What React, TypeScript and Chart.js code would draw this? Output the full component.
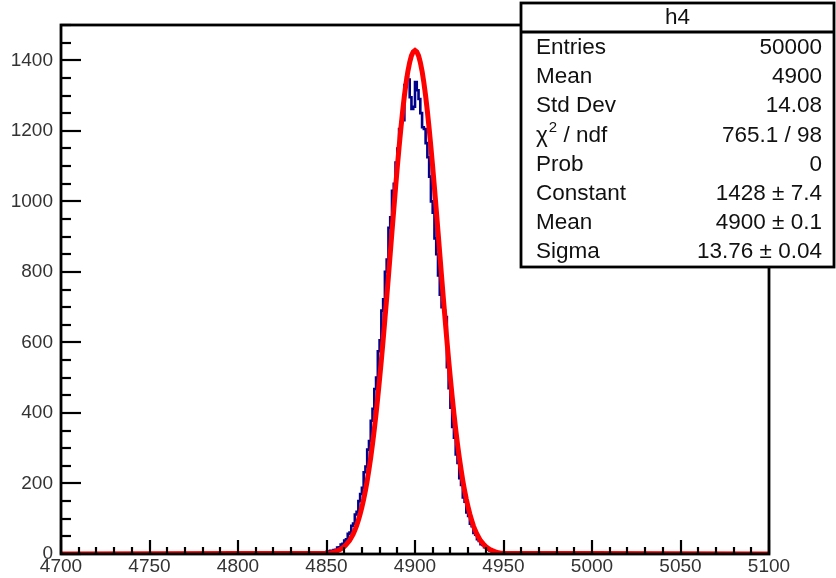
import React, { useEffect, useRef } from 'react';
import { Chart, registerables } from 'chart.js';

Chart.register(...registerables);

// ---- data ----
const xMin = 4700;
const xMax = 5100;
const yMin = 0;
const yMax = 1500;
const xTickLabels = [4700, 4750, 4800, 4850, 4900, 4950, 5000, 5050, 5100];
const yTickLabels = [0, 200, 400, 600, 800, 1000, 1200, 1400];

// histogram bin contents (bin width 1), first bin low edge = histStart
const histStart = 4842;
const histCounts = [
  1, 0, 1, 1, 2, 2, 3, 4, 4, 6,
  7, 9, 9, 11, 12, 18, 19, 27, 29, 38,
  42, 57, 61, 80, 86, 112, 120, 150, 170, 188,
  232, 248, 296, 320, 378, 412, 468, 500, 575, 606,
  690, 722, 800, 835, 925, 955, 1030, 1050, 1110, 1150,
  1205, 1225, 1230, 1330, 1352, 1345, 1295, 1262, 1268, 1338,
  1315, 1290, 1250, 1210, 1205, 1165, 1125, 1070, 1000, 968,
  895, 850, 790, 735, 700, 690, 672, 530, 470, 415,
  360, 330, 282, 258, 215, 196, 160, 148, 118, 108,
  86, 79, 60, 55, 42, 37, 28, 26, 19, 17,
  12, 10, 8, 6, 5, 4, 3, 2, 2, 1,
  1, 0, 1,
];

// gaussian fit curve values, one per unit from fitStart
const fitStart = 4850;
const fitCounts = [
  2, 2.5, 3, 4, 5, 7, 9, 11, 14, 17,
  21, 26, 32, 38, 47, 56, 67, 80, 96, 113,
  133, 155, 180, 208, 240, 274, 312, 353, 398, 446,
  497, 550, 607, 666, 726, 788, 851, 914, 976, 1038,
  1097, 1153, 1206, 1255, 1299, 1337, 1369, 1394, 1413, 1424,
  1428,
  1424, 1413, 1394, 1369, 1337, 1299, 1255, 1206, 1153, 1097,
  1038, 976, 914, 851, 788, 726, 666, 607, 550, 497,
  446, 398, 353, 312, 274, 240, 208, 180, 155, 133,
  113, 96, 80, 67, 56, 47, 38, 32, 26, 21,
  17, 14, 11, 9, 7, 5, 4, 3, 2.5, 2,
];

const statsTitle = 'h4';
const statsNames = ['Entries', 'Mean', 'Std Dev', 'CHI2', 'Prob', 'Constant', 'Mean', 'Sigma'];
const statsValues = ['50000', '4900', '14.08', '765.1 / 98', '0', '1428 ± 7.4', '4900 ± 0.1', '13.76 ± 0.04'];

const FONT = '"Liberation Sans", Arial, Helvetica, sans-serif';
const STAT_SIZE = 22.5;

const rootFrame = {
  id: 'rootFrame',
  afterDatasetsDraw(chart: any) {
    const { ctx, chartArea: a, scales } = chart;
    const x = scales.x;
    const y = scales.y;
    ctx.save();
    ctx.strokeStyle = '#000';
    ctx.lineWidth = 2.2;
    ctx.lineCap = 'butt';
    // x ticks (inward)
    for (let v = xMin; v <= xMax; v += 10) {
      const px = Math.round(x.getPixelForValue(v));
      const major = (v - xMin) % 50 === 0;
      ctx.beginPath();
      ctx.moveTo(px, a.bottom);
      ctx.lineTo(px, a.bottom - (major ? 14 : 7));
      ctx.stroke();
    }
    // y ticks (inward)
    for (let v = yMin; v <= yMax; v += 50) {
      const py = Math.round(y.getPixelForValue(v));
      const major = v % 200 === 0;
      ctx.beginPath();
      ctx.moveTo(a.left, py);
      ctx.lineTo(a.left + (major ? 20 : 10), py);
      ctx.stroke();
    }
    // frame
    ctx.lineWidth = 2.8;
    ctx.strokeRect(a.left, a.top, a.right - a.left, a.bottom - a.top);

    // stats box
    const bx = 521, by = 3, bw = 313, bh = 264, hy = 32;
    ctx.fillStyle = '#fff';
    ctx.fillRect(bx, by, bw, bh);
    ctx.lineWidth = 2.8;
    ctx.strokeRect(bx, by, bw, bh);
    ctx.beginPath();
    ctx.moveTo(bx, hy);
    ctx.lineTo(bx + bw, hy);
    ctx.stroke();

    ctx.fillStyle = '#111';
    ctx.textBaseline = 'middle';
    ctx.font = `${STAT_SIZE}px ${FONT}`;
    ctx.textAlign = 'center';
    ctx.fillText(statsTitle, bx + bw / 2, 18);
    for (let i = 0; i < statsNames.length; i++) {
      const ry = 48 + i * 29.1;
      ctx.textAlign = 'left';
      const name = statsNames[i];
      if (name === 'CHI2') {
        ctx.font = `${STAT_SIZE}px ${FONT}`;
        ctx.fillText('χ', 536, ry);
        const w = ctx.measureText('χ').width;
        ctx.font = `15px ${FONT}`;
        ctx.fillText('2', 536 + w + 1, ry - 7);
        const w2 = ctx.measureText('2').width;
        ctx.font = `${STAT_SIZE}px ${FONT}`;
        ctx.fillText(' / ndf', 536 + w + w2 + 1, ry);
      } else {
        ctx.font = `${STAT_SIZE}px ${FONT}`;
        ctx.fillText(name, 536, ry);
      }
      ctx.textAlign = 'right';
      ctx.font = `${STAT_SIZE}px ${FONT}`;
      ctx.fillText(statsValues[i], 822, ry);
    }
    ctx.restore();
  },
};

export default function App() {
  const ref = useRef<HTMLCanvasElement | null>(null);

  useEffect(() => {
    if (!ref.current) return;
    const histData: { x: number; y: number }[] = [];
    for (let b = xMin; b < xMax; b++) {
      const idx = b - histStart;
      const c = idx >= 0 && idx < histCounts.length ? histCounts[idx] : 0;
      histData.push({ x: b, y: c });
    }
    histData.push({ x: xMax, y: 0 });

    const fitData: { x: number; y: number }[] = [{ x: xMin, y: 0 }];
    fitCounts.forEach((v, i) => fitData.push({ x: fitStart + i, y: v }));
    fitData.push({ x: xMax, y: 0 });

    const chart = new Chart(ref.current, {
      type: 'line',
      data: {
        datasets: [
          {
            label: 'fit',
            data: fitData,
            borderColor: '#ff0000',
            borderWidth: 5,
            pointRadius: 0,
            tension: 0,
            fill: false,
          },
          {
            label: 'h4',
            data: histData,
            borderColor: '#00008b',
            borderWidth: 2.6,
            pointRadius: 0,
            stepped: 'after',
            fill: false,
          },
        ],
      },
      options: {
        animation: false,
        responsive: false,
        events: [],
        layout: { padding: { top: 25, right: 67, left: 0, bottom: 0 } },
        plugins: { legend: { display: false }, tooltip: { enabled: false }, title: { display: false } },
        scales: {
          x: {
            type: 'linear',
            min: xMin,
            max: xMax,
            grid: { display: false, drawTicks: false },
            border: { display: false },
            afterBuildTicks: (s: any) => {
              s.ticks = xTickLabels.map((v) => ({ value: v }));
            },
            afterFit: (s: any) => {
              s.height = 24;
            },
            ticks: {
              autoSkip: false,
              maxRotation: 0,
              padding: 1,
              color: '#333',
              font: { family: FONT, size: 19 },
              callback: (v: any) => String(v),
            },
          },
          y: {
            type: 'linear',
            min: yMin,
            max: yMax,
            grid: { display: false, drawTicks: false },
            border: { display: false },
            afterBuildTicks: (s: any) => {
              s.ticks = yTickLabels.map((v) => ({ value: v }));
            },
            afterFit: (s: any) => {
              s.width = 61;
            },
            ticks: {
              autoSkip: false,
              padding: 8,
              color: '#333',
              font: { family: FONT, size: 19 },
              callback: (v: any) => String(v),
            },
          },
        },
      },
      plugins: [rootFrame],
    });
    return () => chart.destroy();
  }, []);

  return (
    <div style={{ position: 'fixed', left: 0, top: 0, width: 836, height: 578, background: '#fff' }}>
      <canvas ref={ref} width={836} height={578} style={{ display: 'block', width: 836, height: 578 }} />
    </div>
  );
}
